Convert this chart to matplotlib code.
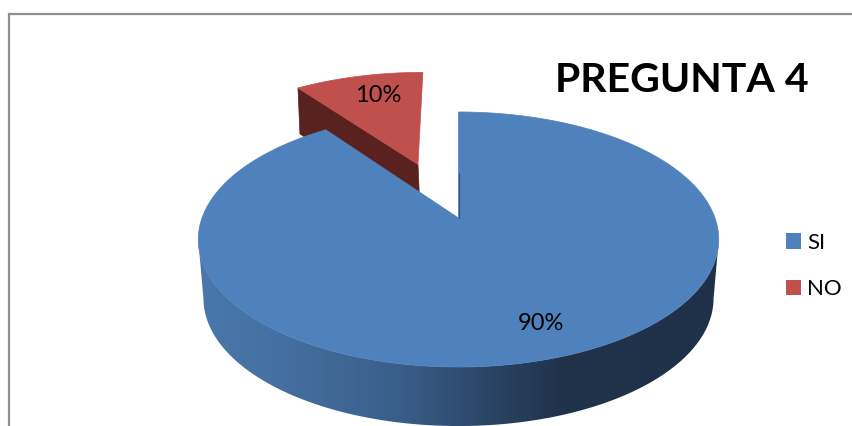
import numpy as np
import matplotlib
matplotlib.use("Agg")
import matplotlib.pyplot as plt
from matplotlib.colors import LinearSegmentedColormap
from matplotlib.lines import Line2D
from matplotlib.patches import Patch, Polygon

# ---- data ----
categories = ["SI", "NO"]
values = [90, 10]
percent_labels = ["90%", "10%"]
title_text = "PREGUNTA 4"
explode = [0.0, 0.49]

# ---- style ----
top_colors = ["#4f81bd", "#c0504d"]
cut_color = "#5a221f"
plt.rcParams["font.family"] = ["Lato", "DejaVu Sans"]

# ---- pie projection (perspective of a tilted disc, in pixels) ----
CX, CY, A, C, B = 458.5, 218.0, 256.5, 123.9, 0.1686
DEPTH = 59.0


def project(X, Y):
    d = 1 + B * Y
    return CX + A * X / d, CY - C * Y / d


def slice_rim(start, end, off, n=200):
    phi = np.radians(np.linspace(start, end, n))
    return project(off[0] + np.cos(phi), off[1] + np.sin(phi))


fig = plt.figure(figsize=(8.52, 4.26), dpi=100)
ax = fig.add_axes([0, 0, 1, 1])
ax.axis("off")

# chart frame
ax.add_line(Line2D([9, 9, 852], [426, 14, 14], color="#8e8e8e", lw=1.6, solid_joinstyle="miter"))

total = sum(values)
angle = 90.0
spans = []
for v in values:
    spans.append((angle - 360.0 * v / total, angle))
    angle -= 360.0 * v / total

# exploded slice (NO) sits behind the main one
s0, s1 = spans[1]
mid = np.radians((s0 + s1) / 2)
off = (explode[1] * np.cos(mid), explode[1] * np.sin(mid))
rx, ry = slice_rim(s0, s1, off)
ax_x, ax_y = project(*off)
rx, ax_x = rx - 4.5, ax_x - 4.5
red_depth = 46.0
ax.fill([ax_x, rx[-1], rx[-1] + 2, ax_x + 2],
        [ax_y, ry[-1], ry[-1] + red_depth, ax_y + red_depth],
        color=cut_color, lw=0.5, zorder=2)
ax.fill(np.r_[ax_x, rx], np.r_[ax_y, ry], color=top_colors[1], lw=0.5, zorder=3)

# main slice (SI): side wall with horizontal shading
s0, s1 = spans[0]
tx, ty = slice_rim(s0, s1, (0, 0), n=721)
mid_x = (tx.min() + tx.max()) / 2
bx = mid_x + 0.98 * (tx - mid_x)
by = ty + DEPTH
x_lo, x_hi = tx.min(), tx.max()
stops_x = [198, 300, 400, 470, 560, 720]
stops_c = ["#4a78ad", "#436d9d", "#3a5e8a", "#2e4a6e", "#20334b", "#1e3148"]
cmap = LinearSegmentedColormap.from_list(
    "wall", [((s - 198) / (720 - 198), c) for s, c in zip(stops_x, stops_c)])
grad = np.linspace(0, 1, 522).reshape(1, -1)
# the rim between its leftmost and rightmost points forms the visible wall
i0, i1 = np.argmin(tx), np.argmax(tx) + 1
order_x = np.r_[tx[i0:i1], bx[i0:i1][::-1]]
order_y = np.r_[ty[i0:i1], by[i0:i1][::-1]]
wall = Polygon(np.c_[order_x, order_y], closed=True, transform=ax.transData, fc="none", ec="none")
ax.add_patch(wall)
im = ax.imshow(grad, cmap=cmap, extent=(x_lo, x_hi, 430, 100), aspect="auto", zorder=4,
               interpolation="bilinear")
im.set_clip_path(wall)

apex_x, apex_y = project(0, 0)
ax.fill(np.r_[apex_x, tx], np.r_[apex_y, ty], color=top_colors[0], lw=0.5, zorder=5)
ax.plot([apex_x, apex_x], [apex_y, apex_y - 45], color="#2f5582", lw=0.8, zorder=6)

# labels
ax.text(540.5, 323, percent_labels[0], ha="center", va="center", fontsize=17, color="black", zorder=7)
ax.text(378.5, 95, percent_labels[1], ha="center", va="center", fontsize=17, color="black", zorder=7)
ax.text(681.5, 81, title_text, ha="center", va="center", fontsize=29.5, fontweight="bold", color="black", zorder=7)

# legend
handles = [Patch(facecolor=c, edgecolor="none") for c in top_colors]
ax.legend(handles, categories, loc="upper left", bbox_to_anchor=(779 / 852, 1 - 226 / 426),
          frameon=False, fontsize=16, handlelength=0.68, handleheight=0.68,
          handletextpad=0.3, labelspacing=1.2, borderpad=0.3, borderaxespad=0)

ax.set_xlim(0, 852)
ax.set_ylim(426, 0)
fig.savefig("out.png", dpi=100)
